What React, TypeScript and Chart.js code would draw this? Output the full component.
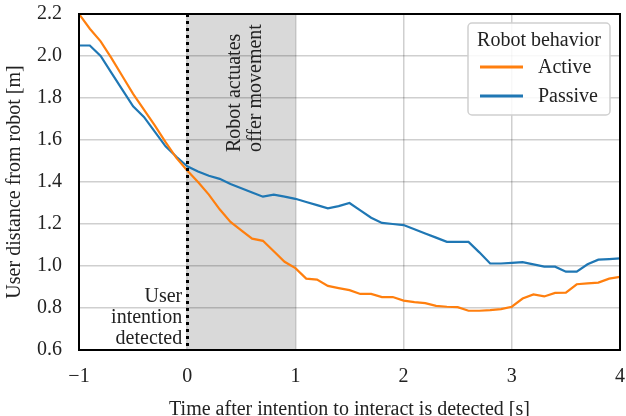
import React, { useEffect, useRef } from "react";
import { Chart, registerables } from "chart.js";

Chart.register(...registerables);

const times = [
  -1.0, -0.9, -0.8, -0.7, -0.6, -0.5, -0.4, -0.3, -0.2, -0.1,
  0.0, 0.1, 0.2, 0.3, 0.4, 0.5, 0.6, 0.7, 0.8, 0.9,
  1.0, 1.1, 1.2, 1.3, 1.4, 1.5, 1.6, 1.7, 1.8, 1.9,
  2.0, 2.1, 2.2, 2.3, 2.4, 2.5, 2.6, 2.7, 2.8, 2.9,
  3.0, 3.1, 3.2, 3.3, 3.4, 3.5, 3.6, 3.7, 3.8, 3.9, 4.0,
];

const activeValues = [
  2.2, 2.13, 2.07, 1.99, 1.905, 1.82, 1.745, 1.67, 1.59, 1.515,
  1.455, 1.4, 1.34, 1.27, 1.21, 1.17, 1.13, 1.12, 1.07, 1.02,
  0.99, 0.94, 0.935, 0.905, 0.895, 0.885, 0.867, 0.867, 0.852, 0.852,
  0.835, 0.828, 0.823, 0.81, 0.806, 0.804, 0.787, 0.787, 0.79, 0.795,
  0.806, 0.845, 0.865, 0.855, 0.872, 0.873, 0.913, 0.917, 0.921, 0.94, 0.948,
];

const passiveValues = [
  2.05, 2.05, 2.0, 1.92, 1.84, 1.76, 1.71, 1.64, 1.57, 1.52,
  1.475, 1.45, 1.43, 1.415, 1.39, 1.37, 1.35, 1.33, 1.34, 1.33,
  1.32, 1.305, 1.29, 1.275, 1.285, 1.3, 1.265, 1.23, 1.205, 1.2,
  1.195, 1.175, 1.155, 1.135, 1.115, 1.115, 1.115, 1.065, 1.012, 1.012,
  1.015, 1.018, 1.008, 0.997, 0.997, 0.973, 0.973, 1.008, 1.03, 1.033, 1.036,
];

const seriesNames = ["Active", "Passive"];
const seriesColors = ["#ff7f0e", "#1f77b4"];
const legendTitle = "Robot behavior";
const xTitle = "Time after intention to interact is detected [s]";
const yTitle = "User distance from robot [m]";
const shadeRange = [0, 1];
const intentionTime = 0;
const shadeText = ["Robot actuates", "offer movement"];
const intentionText = ["User", "intention", "detected"];

const FONT = "'Liberation Serif', 'DejaVu Serif', serif";
const TEXT = "#222222";
const FS = 20;

const decorPlugin = {
  id: "decor",
  beforeDraw(chart: any) {
    const { ctx, chartArea, scales } = chart;
    const x0 = scales.x.getPixelForValue(shadeRange[0]);
    const x1 = scales.x.getPixelForValue(shadeRange[1]);
    ctx.save();
    ctx.fillStyle = "#d9d9d9";
    ctx.fillRect(x0, chartArea.top, x1 - x0, chartArea.bottom - chartArea.top);
    ctx.restore();
  },
  afterDatasetsDraw(chart: any) {
    const { ctx, chartArea, scales } = chart;
    const xs = scales.x;
    ctx.save();
    // dotted line at intention time
    const xd = Math.round(xs.getPixelForValue(intentionTime)) + 0.5;
    ctx.strokeStyle = "#000";
    ctx.lineWidth = 3;
    ctx.setLineDash([3, 4]);
    ctx.beginPath();
    ctx.moveTo(xd, chartArea.top);
    ctx.lineTo(xd, chartArea.bottom);
    ctx.stroke();
    ctx.setLineDash([]);

    // axes box
    ctx.lineWidth = 2;
    ctx.strokeStyle = "#000";
    ctx.strokeRect(chartArea.left, chartArea.top, chartArea.right - chartArea.left, chartArea.bottom - chartArea.top);

    // shade annotation text (rotated)
    ctx.fillStyle = TEXT;
    ctx.font = `${FS}px ${FONT}`;
    const xc = (xs.getPixelForValue(shadeRange[0]) + xs.getPixelForValue(shadeRange[1])) / 2;
    ctx.save();
    ctx.translate(xc, 152);
    ctx.rotate(-Math.PI / 2);
    ctx.textAlign = "left";
    ctx.textBaseline = "middle";
    ctx.fillText(shadeText[0], 0, -7);
    ctx.fillText(shadeText[1], 0, 14);
    ctx.restore();

    // intention annotation text
    ctx.textAlign = "right";
    ctx.textBaseline = "alphabetic";
    const xr = xs.getPixelForValue(intentionTime) - 5;
    intentionText.forEach((t, i) => ctx.fillText(t, xr, 302 + i * 21));

    // legend
    const lx = 468, ly = 23, lw = 142, lh = 92;
    ctx.beginPath();
    ctx.roundRect(lx, ly, lw, lh, 4);
    ctx.fillStyle = "rgba(255,255,255,0.85)";
    ctx.fill();
    ctx.strokeStyle = "#d0d0d0";
    ctx.lineWidth = 1.5;
    ctx.stroke();
    ctx.fillStyle = TEXT;
    ctx.textAlign = "center";
    ctx.textBaseline = "middle";
    ctx.fillText(legendTitle, lx + lw / 2, 41);
    seriesNames.forEach((name, i) => {
      const y = 67 + i * 29;
      ctx.strokeStyle = seriesColors[i];
      ctx.lineWidth = 3;
      ctx.beginPath();
      ctx.moveTo(480, y);
      ctx.lineTo(523, y);
      ctx.stroke();
      ctx.fillStyle = TEXT;
      ctx.textAlign = "left";
      ctx.fillText(name, 538, y + 1);
    });
    ctx.restore();
  },
};

const noPad = (s: any) => {
  s.paddingTop = 0;
  s.paddingBottom = 0;
  s.paddingLeft = 0;
  s.paddingRight = 0;
};

export default function App() {
  const canvasRef = useRef<HTMLCanvasElement | null>(null);

  useEffect(() => {
    const canvas = canvasRef.current;
    if (!canvas) return;
    const gridColor = "rgba(0,0,0,0.19)";
    const chart = new Chart(canvas, {
      type: "line",
      data: {
        datasets: [activeValues, passiveValues].map((vals, i) => ({
          label: seriesNames[i],
          data: times.map((t, j) => ({ x: t, y: vals[j] })),
          borderColor: seriesColors[i],
          backgroundColor: seriesColors[i],
          borderWidth: 2.2,
          pointRadius: 0,
          tension: 0,
          fill: false,
        })),
      },
      options: {
        responsive: false,
        animation: false,
        events: [],
        layout: { padding: { top: 14, right: 6, left: 0, bottom: 0 } },
        plugins: {
          legend: { display: false },
          tooltip: { enabled: false },
        },
        scales: {
          x: {
            type: "linear",
            min: -1,
            max: 4,
            afterFit: (s: any) => { s.height = 66; noPad(s); },
            ticks: {
              stepSize: 1,
              color: TEXT,
              padding: 15,
              font: { family: FONT, size: FS },
              callback: (v: any) => (Number(v) < 0 ? "\u2212" + Math.abs(Number(v)) : String(v)),
            },
            grid: { color: gridColor, lineWidth: 1.5, drawTicks: false },
            border: { display: false },
            title: {
              display: true,
              text: xTitle,
              color: TEXT,
              font: { family: FONT, size: FS },
              padding: { top: 0, bottom: -6 },
            },
          },
          y: {
            min: 0.6,
            max: 2.2,
            afterFit: (s: any) => { s.width = 79; noPad(s); },
            ticks: {
              stepSize: 0.2,
              color: TEXT,
              padding: 17,
              font: { family: FONT, size: FS },
              callback: (v: any) => Number(v).toFixed(1),
            },
            grid: { color: gridColor, lineWidth: 1.5, drawTicks: false },
            border: { display: false },
            title: {
              display: true,
              text: yTitle,
              color: TEXT,
              font: { family: FONT, size: FS },
              padding: { top: 3, bottom: 0 },
            },
          },
        },
      },
      plugins: [decorPlugin],
    });
    return () => chart.destroy();
  }, []);

  return (
    <div style={{ position: "fixed", left: 0, top: 0, width: 626, height: 416, background: "#fff" }}>
      <canvas ref={canvasRef} width={626} height={416} style={{ display: "block", width: 626, height: 416 }} />
    </div>
  );
}
